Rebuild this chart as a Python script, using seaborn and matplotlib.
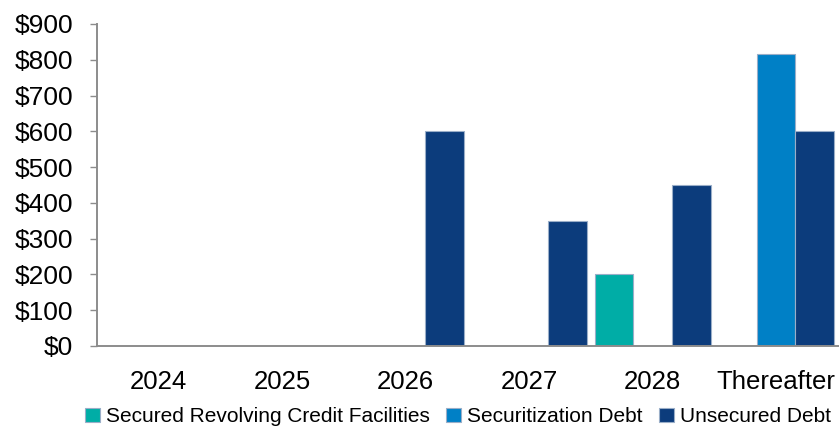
import matplotlib
matplotlib.use("Agg")
import matplotlib.pyplot as plt
import seaborn as sns
import pandas as pd
from matplotlib.ticker import FuncFormatter

years = ["2024", "2025", "2026", "2027", "2028", "Thereafter"]
series = ["Secured Revolving Credit Facilities", "Securitization Debt", "Unsecured Debt"]
secured_revolving = [0, 0, 0, 0, 200, 0]
securitization = [0, 0, 0, 0, 0, 815]
unsecured = [0, 0, 600, 350, 450, 600]
colors = ["#00ADA6", "#0080C6", "#0C3C7C"]

rows = []
for name, vals in zip(series, [secured_revolving, securitization, unsecured]):
    for y, v in zip(years, vals):
        rows.append({"Year": y, "Type": name, "Amount": v})
df = pd.DataFrame(rows)
df = df[df["Amount"] > 0]

sns.set_style("white")
plt.rcParams["font.family"] = ["Liberation Sans", "DejaVu Sans"]
plt.rcParams["text.color"] = "black"

fig = plt.figure(figsize=(8.39, 4.29), dpi=100)
ax = fig.add_axes([0.1156, 0.1935, 0.883, 0.7506])

sns.barplot(data=df, x="Year", y="Amount", hue="Type", order=years,
            hue_order=series, palette=colors, saturation=1, width=0.94, gap=0,
            edgecolor="#9AAEC8", linewidth=0.8, ax=ax)

ax.set_xlim(-0.5, 5.5)
ax.set_ylim(0, 900)
ax.set_yticks(range(0, 901, 100))
ax.yaxis.set_major_formatter(FuncFormatter(lambda v, p: f"${v:.0f}"))
ax.set_xlabel("")
ax.set_ylabel("")

sns.despine(ax=ax, top=True, right=True)
for s in ["left", "bottom"]:
    ax.spines[s].set_color("#8C8C8C")
    ax.spines[s].set_linewidth(1.4)
ax.tick_params(axis="y", length=5, width=1, color="#8C8C8C", labelcolor="black",
               pad=12, labelsize=19, left=True)
ax.tick_params(axis="x", length=0, pad=17, labelsize=18.5, labelcolor="black")

ax.legend(loc="center", bbox_to_anchor=(0.546, 0.028), bbox_transform=fig.transFigure,
          ncol=3, frameon=False, fontsize=15, handlelength=0.7, handleheight=0.7,
          handletextpad=0.3, columnspacing=0.8, borderaxespad=0, borderpad=0)

fig.savefig("out.png", dpi=100)
